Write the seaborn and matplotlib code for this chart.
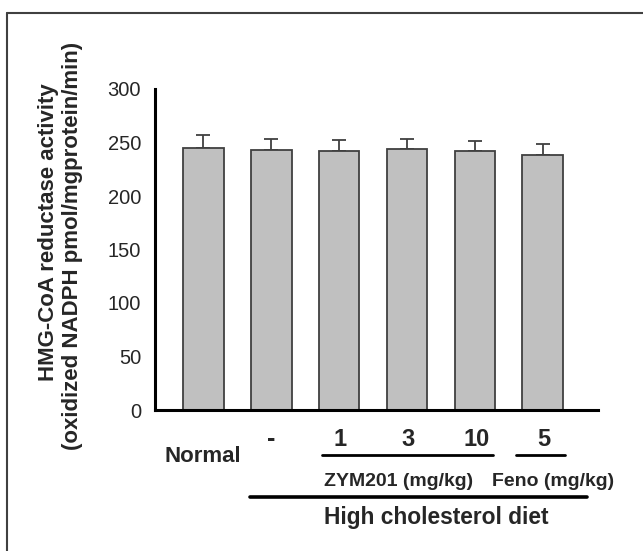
import matplotlib
matplotlib.use("Agg")
import matplotlib.pyplot as plt
import matplotlib.transforms as mtransforms
from matplotlib.lines import Line2D
import seaborn as sns
import pandas as pd

# ---- data ----
groups = ["Normal", "-", "1", "3", "10", "5"]
activity = [245, 243, 242, 243.5, 242, 238]
sem = [12, 10, 10, 9.5, 9.5, 11]
yticks = [0, 50, 100, 150, 200, 250, 300]
ylabel_lines = ["HMG-CoA reductase activity", "(oxidized NADPH pmol/mgprotein/min)"]
group_label_zym = "ZYM201 (mg/kg)"
group_label_feno = "Feno (mg/kg)"
diet_label = "High cholesterol diet"

sns.set_style("white")
plt.rcParams["font.family"] = ["Liberation Sans", "DejaVu Sans"]

W, H = 643, 551
fig = plt.figure(figsize=(W / 100, H / 100), dpi=100)
ax = fig.add_axes([155 / W, 1 - 410 / H, (598 - 155) / W, (410 - 89) / H])

df = pd.DataFrame({"group": groups, "activity": activity})
sns.barplot(data=df, x="group", y="activity", order=groups, color="#c0c0c0",
            width=0.6, edgecolor="#404040", linewidth=1.3, errorbar=None,
            saturation=1, ax=ax)
ax.errorbar(range(len(groups)), activity, yerr=[[0] * len(sem), sem],
            fmt="none", ecolor="#404040", elinewidth=1.3, capsize=5,
            capthick=1.3, zorder=0)

ax.set_xlim(-0.711, 5.813)
ax.set_ylim(0, 300)
ax.set_yticks(yticks)
ax.set_yticklabels([str(t) for t in yticks], fontsize=14.5)
ax.set_xticks(range(len(groups)))
ax.set_xticklabels([])
ax.set_xlabel("")
ax.set_ylabel("")
for s in ["top", "right"]:
    ax.spines[s].set_visible(False)
for s in ["left", "bottom"]:
    ax.spines[s].set_linewidth(2.2)
    ax.spines[s].set_color("black")
ax.tick_params(axis="y", direction="out", length=5, width=1.2, color="black", pad=5)
ax.tick_params(axis="x", direction="out", length=4, width=1, color="#666666")

# y label two lines
fig.text(49 / W, 1 - 232 / H, ylabel_lines[0], rotation=90, ha="center", va="center",
         fontsize=16, fontweight="bold")
fig.text(73 / W, 1 - 246 / H, ylabel_lines[1], rotation=90, ha="center", va="center",
         fontsize=16, fontweight="bold")

tr = mtransforms.blended_transform_factory(ax.transData, fig.transFigure)

def fy(py):
    return 1 - py / H

# category labels
for i, g in enumerate(groups):
    if i == 0:
        ax.text(i, fy(461.5), g, transform=tr, ha="center", va="baseline",
                fontsize=16, fontweight="bold")
    elif g == "-":
        ax.text(i, fy(446), g, transform=tr, ha="center", va="baseline",
                fontsize=18, fontweight="bold")
    else:
        ax.text(i + 0.02, fy(446), g, transform=tr, ha="center",
                va="baseline", fontsize=17, fontweight="bold")

# underlines
for x0, x1, py, lw in [(1.744, 4.27, 455, 2.0), (4.60, 5.33, 455, 2.0),
                       (0.688, 5.646, 497.3, 2.6)]:
    ax.add_line(Line2D([x0, x1], [fy(py), fy(py)], transform=tr, color="black",
                       linewidth=lw, clip_on=False))

ax.text(2.87, fy(486.5), group_label_zym, transform=tr, ha="center", va="baseline",
        fontsize=14, fontweight="bold")
ax.text(5.15, fy(486.5), group_label_feno, transform=tr, ha="center", va="baseline",
        fontsize=14, fontweight="bold")
ax.text(3.43, fy(524), diet_label, transform=tr, ha="center", va="baseline",
        fontsize=16.4, fontweight="bold")

# outer frame (left and top edges visible)
fig.add_artist(Line2D([7 / W, 7 / W], [0, fy(13)], transform=fig.transFigure,
                      color="#404040", linewidth=1.5))
fig.add_artist(Line2D([7 / W, 1], [fy(13), fy(13)], transform=fig.transFigure,
                      color="#404040", linewidth=1.5))

fig.savefig("out.png", dpi=100)
